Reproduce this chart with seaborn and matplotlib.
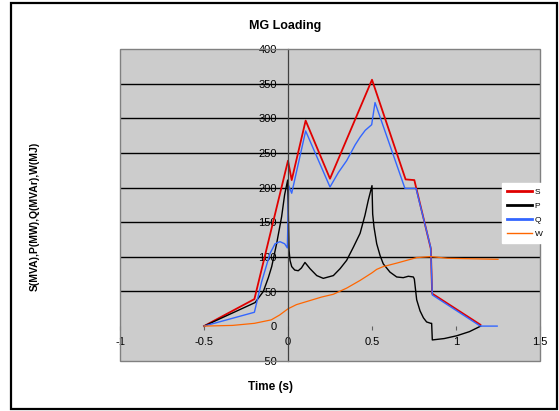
import matplotlib
matplotlib.use("Agg")
import matplotlib.pyplot as plt
import seaborn as sns
import pandas as pd
from matplotlib.patches import Rectangle

# ---- data ----
s_time = [-0.5, -0.2, 0.0, 0.022, 0.105, 0.25, 0.5, 0.70, 0.752, 0.85, 0.858, 1.145]
s_val = [0, 39, 239, 211, 297, 213, 356, 212, 211, 112, 47, 2]

p_time = [-0.5, -0.196, -0.147, -0.117, -0.097, -0.067, -0.038, -0.02, -0.002, 0.006, 0.012,
          0.022, 0.04, 0.061, 0.08, 0.101, 0.131, 0.171, 0.21, 0.27, 0.31, 0.349, 0.389, 0.429,
          0.458, 0.478, 0.50, 0.504, 0.512, 0.528, 0.548, 0.567, 0.607, 0.647, 0.686, 0.716,
          0.746, 0.752, 0.758, 0.766, 0.786, 0.806, 0.825, 0.85, 0.855, 0.859, 0.93, 1.004,
          1.08, 1.147]
p_val = [0, 34, 50, 70, 86, 120, 158, 190, 211, 110, 95,
         86, 81, 80, 84, 92, 83, 73, 69, 73, 83, 95, 114, 134,
         160, 182, 203, 162, 143, 119, 102, 90, 78, 71, 70, 72,
         71, 68, 55, 38, 22, 12, 6, 4, 4, -20, -18, -14,
         -8, 0]

q_time = [-0.5, -0.2, -0.157, -0.107, -0.077, -0.048, -0.02, -0.004, 0.004, 0.022, 0.105,
          0.25, 0.30, 0.349, 0.40, 0.429, 0.46, 0.498, 0.518, 0.696, 0.762, 0.849, 0.859,
          1.145, 1.245]
q_val = [0, 20, 64, 105, 119, 122, 119, 113, 203, 192, 282,
         201, 222, 239, 262, 273, 283, 291, 323, 199, 199, 114, 45,
         0, 0]

w_time = [-0.5, -0.33, -0.2, -0.1, -0.05, 0.0, 0.05, 0.2, 0.27, 0.35, 0.429, 0.5, 0.528,
          0.567, 0.647, 0.766, 0.85, 0.95, 1.25]
w_val = [0, 1, 4, 9, 16, 25, 31, 42, 46, 55, 66, 77, 82,
         86, 91, 99, 100.5, 98, 96.5]

x_ticks = [-1, -0.5, 0, 0.5, 1, 1.5]
x_tick_labels = ["-1", "-0.5", "0", "0.5", "1", "1.5"]
y_ticks = [-50, 0, 50, 100, 150, 200, 250, 300, 350, 400]
series_names = ["S", "P", "Q", "W"]

# ---- styling ----
plt.rcParams["font.family"] = ["Liberation Sans", "DejaVu Sans"]

fig = plt.figure(figsize=(5.59, 4.11), dpi=100)
fig.patch.set_facecolor("white")
ax = fig.add_axes([120 / 559, 1 - 360.7 / 411, 420 / 559, 311.4 / 411])
ax.set_facecolor("#cccccc")

styles = [
    (s_time, s_val, "#e00000", 1.3),
    (p_time, p_val, "#000000", 1.0),
    (q_time, q_val, "#3366ff", 1.0),
    (w_time, w_val, "#ff6600", 0.9),
]
for (t, v, col, lw), name in zip(styles, series_names):
    df = pd.DataFrame({"t": t, "v": v})
    sns.lineplot(data=df, x="t", y="v", ax=ax, color=col, linewidth=lw,
                 sort=False, estimator=None, label=name)

ax.set_xlim(-1, 1.5)
ax.set_ylim(-50, 400)
ax.set_xticks(x_ticks)
ax.set_xticklabels(x_tick_labels)
ax.set_yticks(y_ticks)
ax.set_xlabel("")
ax.set_ylabel("")

for sp in ["top", "right"]:
    ax.spines[sp].set_visible(False)
ax.spines["left"].set_position(("data", 0))
ax.spines["left"].set_color("#404040")
ax.spines["left"].set_linewidth(0.9)
ax.spines["bottom"].set_position(("data", 0))
ax.spines["bottom"].set_linewidth(0)

ax.add_patch(Rectangle((0, 0), 1, 1, transform=ax.transAxes, fill=False,
                       edgecolor="#808080", linewidth=1.0, clip_on=False, zorder=5))

ax.set_axisbelow(True)
ax.grid(axis="y", color="black", linewidth=1.0)
ax.grid(axis="x", visible=False)
for gl, val in zip(ax.get_ygridlines(), y_ticks):
    if val in (-50, 0, 400):
        gl.set_visible(False)

ax.tick_params(axis="x", direction="out", length=3, width=0.8, color="#606060",
               pad=5, labelsize=8)
ax.tick_params(axis="y", length=0, pad=8, labelsize=8)

leg = ax.legend(loc="upper left", bbox_to_anchor=(502 / 559, 1 - 183 / 411),
                bbox_transform=fig.transFigure, frameon=True, fancybox=False,
                facecolor="white", edgecolor="white", framealpha=1, fontsize=6,
                handlelength=3.0, handletextpad=0.3, labelspacing=0.75,
                borderpad=0.6, borderaxespad=0)
for lh, w in zip(leg.get_lines(), [2.0, 2.0, 2.0, 1.0]):
    lh.set_linewidth(w)

fig.text(285 / 559, 1 - 25.5 / 411, "MG Loading", ha="center", va="center",
         fontsize=9, fontweight="bold")
fig.text(270 / 559, 1 - 387 / 411, "Time (s)", ha="center", va="center",
         fontsize=8.5, fontweight="bold")
fig.text(35 / 559, 1 - 216 / 411, "S(MVA),P(MW),Q(MVAr),W(MJ)", ha="center",
         va="center", rotation=90, fontsize=7.5, fontweight="bold")

fig.patches.append(Rectangle((10.5 / 559, 1 - 409 / 411), 546.5 / 559, 406 / 411,
                             transform=fig.transFigure, fill=False,
                             edgecolor="black", linewidth=1.6))

fig.savefig("out.png", dpi=100)
